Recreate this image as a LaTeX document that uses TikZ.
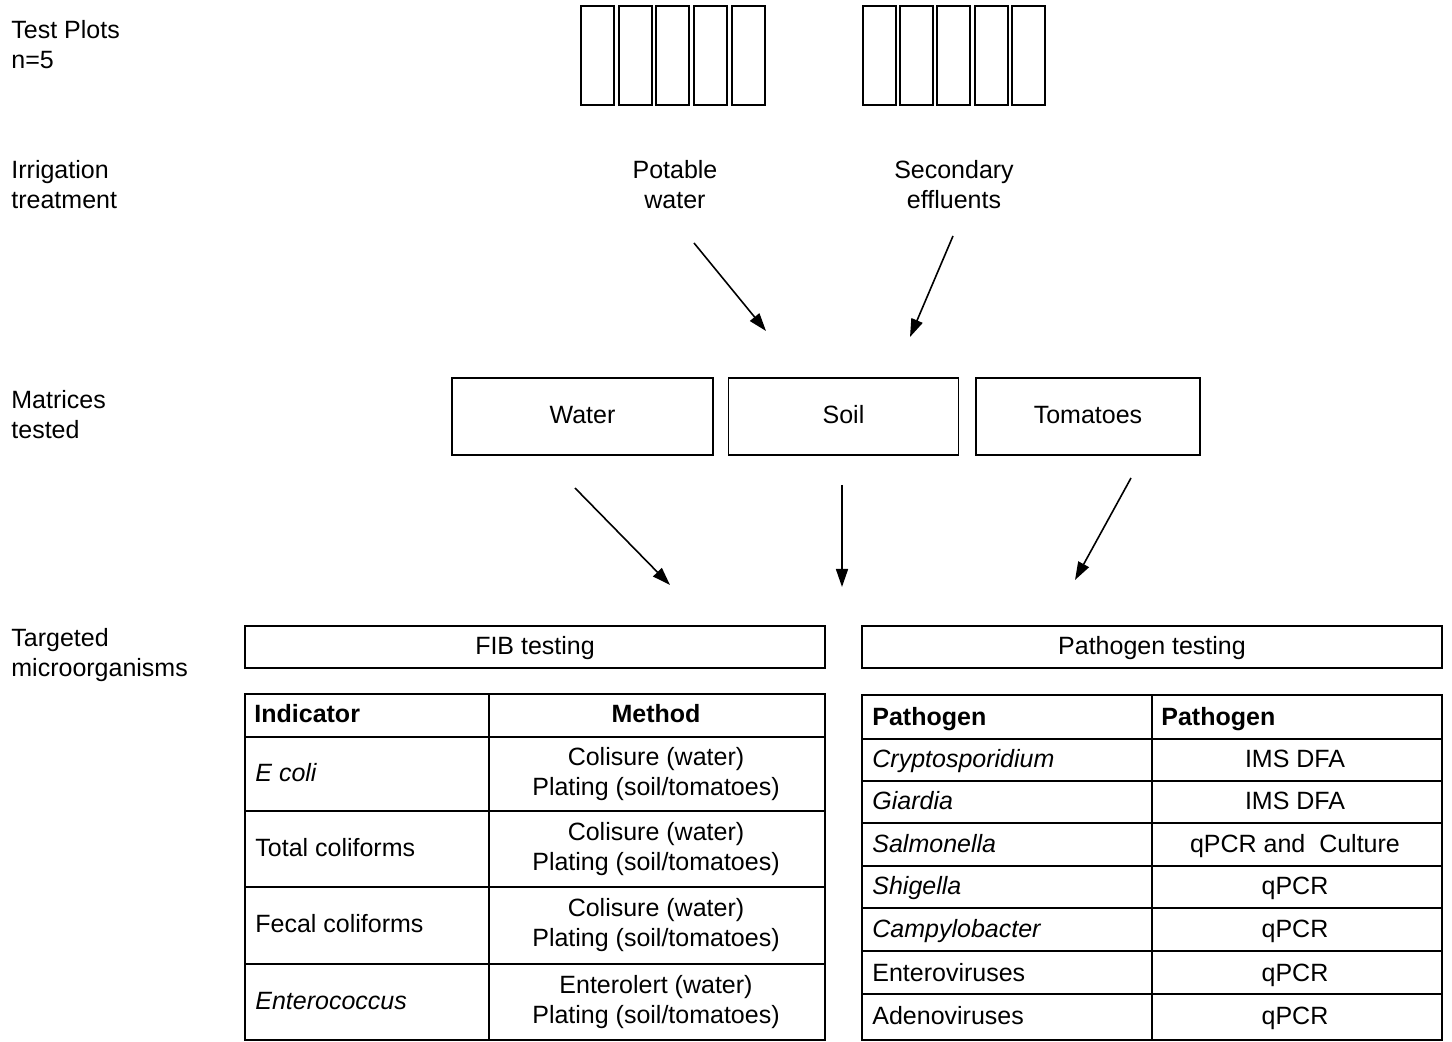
\documentclass[tikz,border=0pt]{standalone}
\usepackage{fontspec}
\setmainfont{Liberation Sans}
\usetikzlibrary{arrows.meta}
\tikzset{
  rowlabel/.style={anchor=west, align=left, inner sep=0pt},
  midtext/.style={align=center, inner sep=0pt},
  onetext/.style={inner sep=0pt, text height=9pt, text depth=1.6pt},
  celltext/.style={onetext, anchor=west},
  matbox/.style={draw, line width=0.8pt, minimum height=38.5pt, inner sep=0pt, text height=9pt, text depth=1.6pt},
  headbox/.style={draw, line width=0.8pt, minimum width=290pt, minimum height=21pt, inner sep=0pt, text height=9pt, text depth=1.6pt},
  plotbox/.style={draw, line width=1pt},
  grid/.style={draw, line width=1pt},
  flow/.style={line width=0.8pt, -{Triangle[length=9pt,width=6pt]}},
}
\begin{document}
\begin{tikzpicture}[x=0.5pt, y=-0.5pt, font=\fontsize{12.5pt}{15pt}\selectfont]
\useasboundingbox (0,0) rectangle (1452,1042);
% Row labels
\node[rowlabel] (plots-lbl) at (11,45) {Test Plots\\n=5};
\node[rowlabel] (irr-lbl) at (11,185) {Irrigation\\treatment};
\node[rowlabel] (mat-lbl) at (11,415) {Matrices\\tested};
\node[rowlabel] (micro-lbl) at (11,655) {Targeted\\microorganisms};
% Test plots
\foreach \x in {581,619,656,694,732}
  \draw[plotbox] (\x,6) rectangle ++(33,99);
\foreach \x in {863,900,937,975,1012}
  \draw[plotbox] (\x,6) rectangle ++(33,99);
% Irrigation treatment
\node[midtext] (potable) at (675,185) {Potable\\water};
\node[midtext] (effluent) at (954,185) {Secondary\\effluents};
\coordinate (potable-out) at (694,243);
\coordinate (effluent-out) at (953,236);
\coordinate (potable-in) at (766,331);
\coordinate (effluent-in) at (910,337);
\draw[flow] (potable-out) -- (potable-in);
\draw[flow] (effluent-out) -- (effluent-in);
% Matrices tested
\node[matbox, minimum width=130.5pt] (water) at (582.5,416.5) {Water};
\node[matbox, minimum width=115pt] (soil) at (843.5,416.5) {Soil};
\node[matbox, minimum width=112pt] (tomato) at (1088,416.5) {Tomatoes};
\coordinate (water-out) at (575,488);
\coordinate (soil-out) at (842,485);
\coordinate (tomato-out) at (1131,478);
\coordinate (water-in) at (670,585);
\coordinate (soil-in) at (842,587);
\coordinate (tomato-in) at (1075,580);
\draw[flow] (water-out) -- (water-in);
\draw[flow] (soil-out) -- (soil-in);
\draw[flow] (tomato-out) -- (tomato-in);
% Testing headers
\node[headbox] (fib) at (535,647) {FIB testing};
\node[headbox] (path) at (1152,647) {Pathogen testing};
% FIB table
\draw[grid] (245,694) rectangle (825,1040);
\draw[grid] (489,694) -- (489,1040);
\foreach \y in {737,811,887,964}
  \draw[grid] (245,\y) -- (825,\y);
\node[celltext] (fib-h1) at (254,715) {\bfseries Indicator};
\node[onetext] (fib-h2) at (656,715) {\bfseries Method};
\node[celltext] (fib-a1) at (255,774) {\itshape E coli};
\node[midtext] (fib-a2) at (656,774) {Colisure (water)\\Plating (soil/tomatoes)};
\node[celltext] (fib-b1) at (255,849) {Total coliforms};
\node[midtext] (fib-b2) at (656,849) {Colisure (water)\\Plating (soil/tomatoes)};
\node[celltext] (fib-c1) at (255,925.5) {Fecal coliforms};
\node[midtext] (fib-c2) at (656,925.5) {Colisure (water)\\Plating (soil/tomatoes)};
\node[celltext] (fib-d1) at (255,1002) {\itshape Enterococcus};
\node[midtext] (fib-d2) at (656,1002) {Enterolert (water)\\Plating (soil/tomatoes)};
% Pathogen table
\draw[grid] (862,695) rectangle (1442,1040);
\draw[grid] (1152,695) -- (1152,1040);
\foreach \y in {739,781,823,866,908,951,994}
  \draw[grid] (862,\y) -- (1442,\y);
\node[celltext] (path-h1) at (872,718) {\bfseries Pathogen};
\node[celltext] (path-h2) at (1161,718) {\bfseries Pathogen};
\node[celltext] (path-a1) at (872,760) {\itshape Cryptosporidium};
\node[onetext] (path-a2) at (1295,760) {IMS DFA};
\node[celltext] (path-b1) at (872,802) {\itshape Giardia};
\node[onetext] (path-b2) at (1295,802) {IMS DFA};
\node[celltext] (path-c1) at (872,845) {\itshape Salmonella};
\node[onetext] (path-c2) at (1295,845) {qPCR and\ \ Culture};
\node[celltext] (path-d1) at (872,887) {\itshape Shigella};
\node[onetext] (path-d2) at (1295,887) {qPCR};
\node[celltext] (path-e1) at (872,930) {\itshape Campylobacter};
\node[onetext] (path-e2) at (1295,930) {qPCR};
\node[celltext] (path-f1) at (872,974) {Enteroviruses};
\node[onetext] (path-f2) at (1295,974) {qPCR};
\node[celltext] (path-g1) at (872,1017) {Adenoviruses};
\node[onetext] (path-g2) at (1295,1017) {qPCR};
\end{tikzpicture}
\end{document}
